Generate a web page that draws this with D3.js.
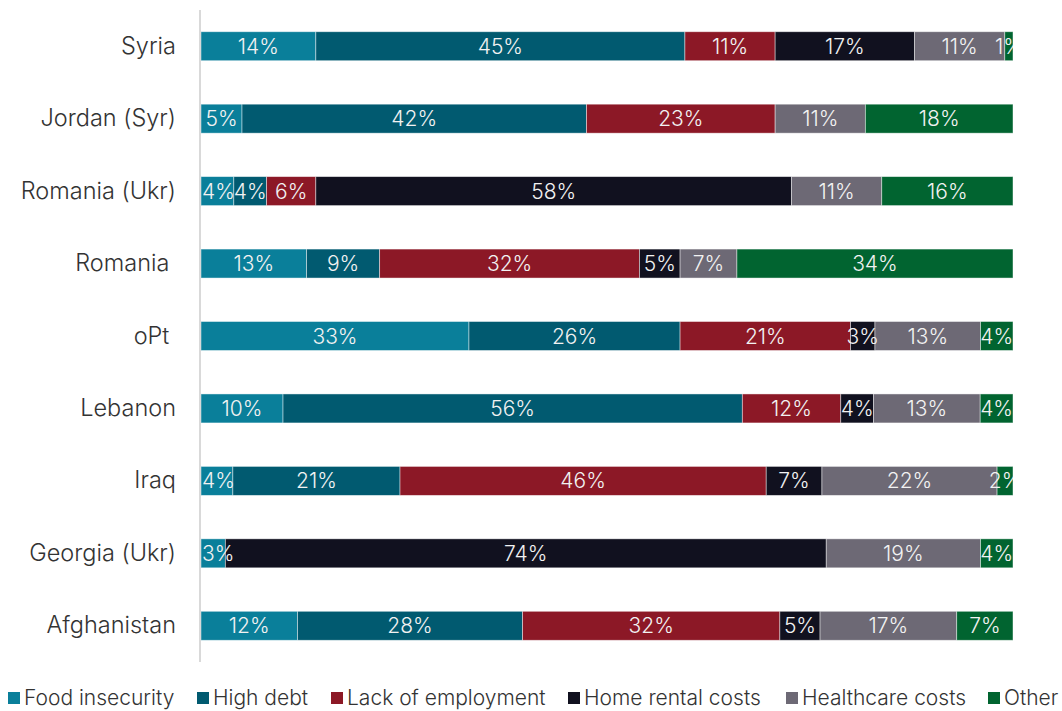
<!DOCTYPE html>
<html><head><meta charset="utf-8">
<script src="https://cdn.jsdelivr.net/npm/d3@7"></script>
<style>
body{margin:0;background:#fff;}
svg{display:block;font-family:Inter,"Noto Sans",sans-serif;}
</style></head>
<body><svg id="c" width="1062" height="711"></svg>
<script>
const countries = ["Syria","Jordan (Syr)","Romania (Ukr)","Romania ","oPt ","Lebanon","Iraq","Georgia (Ukr)","Afghanistan"];
const seriesNames = ["Food insecurity","High debt","Lack of employment","Home rental costs","Healthcare costs","Other"];
const colors = ["#0a7f9a","#015a70","#8c1826","#11111f","#6d6975","#016430"];
const foodInsecurity   = [14, 5, 4,13,33,10, 4, 3,12];
const highDebt         = [45,42, 4, 9,26,56,21, 0,28];
const lackOfEmployment = [11,23, 6,32,21,12,46, 0,32];
const homeRentalCosts  = [17, 0,58, 5, 3, 4, 7,74, 5];
const healthcareCosts  = [11,11,11, 7,13,13,22,19,17];
const other            = [ 1,18,16,34, 4, 4, 2, 4, 7];

const seriesValues = [foodInsecurity,highDebt,lackOfEmployment,homeRentalCosts,healthcareCosts,other];
const rows = countries.map((c,i)=>{const o={country:c}; seriesNames.forEach((s,j)=>o[s]=seriesValues[j][i]); return o;});

const svg = d3.select("#c");
const margin = {left:200, right:49, top:10, bottom:49};
const W = 1062, H = 711;
const x = d3.scaleLinear().domain([0,1]).range([margin.left+1, W-margin.right]);
const y = d3.scaleBand().domain(countries).range([margin.top, H-margin.bottom]).paddingInner(0.6).paddingOuter(0.3);

const stack = d3.stack().keys(seriesNames).offset(d3.stackOffsetExpand);
const stacked = stack(rows);

svg.append("defs").append("clipPath").attr("id","plotclip")
  .append("rect").attr("x",x(0)).attr("y",0).attr("width",x(1)-x(0)).attr("height",H);

const g = svg.append("g");
stacked.forEach((layer,li)=>{
  g.append("g").selectAll("rect").data(layer).join("rect")
    .attr("x",d=>x(d[0])).attr("width",d=>Math.max(0,x(d[1])-x(d[0])))
    .attr("y",d=>y(d.data.country)).attr("height",y.bandwidth())
    .attr("fill",colors[li])
    .attr("stroke","rgba(255,255,255,0.55)").attr("stroke-width",0.8);
});
const tg = svg.append("g").attr("clip-path","url(#plotclip)");
stacked.forEach((layer)=>{
  tg.append("g").selectAll("text").data(layer.filter(d=>d.data[layer.key]>0)).join("text")
    .attr("y",d=>y(d.data.country)+y.bandwidth()/2)
    .attr("dy","0.36em").attr("text-anchor","middle")
    .attr("fill","#f2f2f2").attr("font-size",21).attr("font-weight",300)
    .text(d=>d.data[layer.key]+"%")
    .each(function(d){
      const w = this.getComputedTextLength();
      const mid = (x(d[0])+x(d[1]))/2;
      d3.select(this).attr("x", Math.max(mid, x(0)+w/2+1));
    });
});

// y axis
const yAxis = d3.axisLeft(y).tickSize(0).tickPadding(24);
const ya = svg.append("g").attr("transform",`translate(${margin.left},0)`).call(yAxis);
ya.select(".domain").attr("stroke","#d9d9d9").attr("stroke-width",2).attr("d",`M0,${margin.top}V${H-margin.bottom}`);
ya.selectAll("text").attr("font-size",23.5).attr("font-weight",300).attr("fill","#333").attr("font-family","Inter,'Noto Sans',sans-serif").style("white-space","pre").attr("xml:space","preserve");

// legend
const legendX = [8,197,331,568,786,988];
const lg = svg.append("g").attr("transform","translate(0,698)");
seriesNames.forEach((s,i)=>{
  const it = lg.append("g").attr("transform",`translate(${legendX[i]},0)`);
  it.append("rect").attr("x",0).attr("y",-6).attr("width",12).attr("height",12).attr("fill",colors[i]);
  it.append("text").attr("x",16).attr("y",0).attr("dy","0.34em").attr("font-size",21).attr("font-weight",300).attr("fill","#333").text(s);
});
</script></body></html>
